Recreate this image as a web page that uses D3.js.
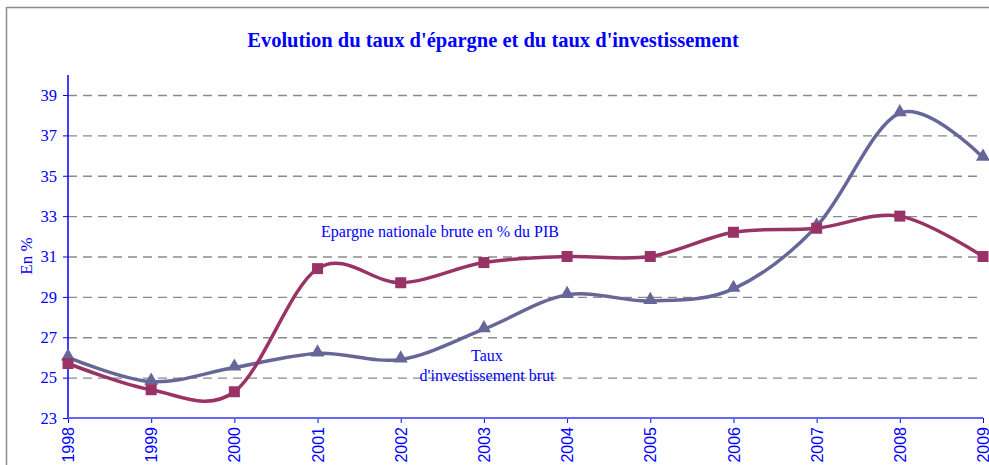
<!DOCTYPE html>
<html>
<head>
<meta charset="utf-8">
<script src="https://cdn.jsdelivr.net/npm/d3@7"></script>
<style>
  body { margin: 0; background: #fff; }
  svg { display: block; font-family: "Liberation Serif", "Times New Roman", serif; }
</style>
</head>
<body>
<div id="chart"></div>
<script>
// data
const years = [1998, 1999, 2000, 2001, 2002, 2003, 2004, 2005, 2006, 2007, 2008, 2009];
const epargne = [25.7, 24.4, 24.3, 30.4, 29.7, 30.7, 31.0, 31.0, 32.2, 32.4, 33.0, 31.0];
const investissement = [26.0, 24.8, 25.5, 26.2, 25.9, 27.4, 29.1, 28.8, 29.4, 32.5, 38.1, 35.9];
const yTicks = [23, 25, 27, 29, 31, 33, 35, 37, 39];

const width = 989, height = 465;
const MARGIN_LEFT = 68, MARGIN_RIGHT = 6, MARGIN_TOP = 95, MARGIN_BOTTOM = 47;

const $svg = d3.select('#chart').append('svg')
    .attr('width', width)
    .attr('height', height);

// frame
$svg.append('rect')
    .attr('x', 6.5).attr('y', 7.5)
    .attr('width', width + 10).attr('height', height + 10)
    .attr('fill', 'none')
    .attr('stroke', '#8c8c8c')
    .attr('stroke-width', 1.5);

// title
$svg.append('text')
    .attr('x', 493).attr('y', 47)
    .attr('text-anchor', 'middle')
    .attr('fill', '#0000ff')
    .attr('font-weight', 'bold')
    .attr('font-size', 20.5)
    .text("Evolution du taux d'épargne et du taux d'investissement");

const xScale = d3.scalePoint()
    .domain(years)
    .range([MARGIN_LEFT, width - MARGIN_RIGHT]);

const yScale = d3.scaleLinear()
    .domain([23, 39])
    .range([height - MARGIN_BOTTOM, MARGIN_TOP]);

// grid
$svg.append('g').attr('class', 'grid')
    .selectAll('line')
    .data(yTicks.slice(1))
    .enter().append('line')
    .attr('x1', MARGIN_LEFT).attr('x2', width - MARGIN_RIGHT)
    .attr('y1', d => yScale(d) + 0.5).attr('y2', d => yScale(d) + 0.5)
    .attr('stroke', '#8a8a8a')
    .attr('stroke-width', 1.3)
    .attr('stroke-dasharray', '9,6');

// y axis
const yAxisGroup = $svg.append('g')
    .attr('transform', `translate(${MARGIN_LEFT},0)`)
    .call(d3.axisLeft(yScale).tickValues(yTicks).tickSize(5).tickPadding(6));
yAxisGroup.select('.domain').remove();
yAxisGroup.append('line')
    .attr('x1', 0).attr('x2', 0)
    .attr('y1', 75).attr('y2', yScale(23))
    .attr('stroke', '#0000ff').attr('stroke-width', 1.5);
yAxisGroup.selectAll('.tick line').attr('stroke', '#0000ff').attr('x2', -5);
yAxisGroup.selectAll('.tick text')
    .attr('fill', '#0000ff')
    .attr('font-size', 16.5)
    .attr('font-family', '"Liberation Serif", serif');

// y label
$svg.append('text')
    .attr('transform', 'translate(32,256) rotate(-90)')
    .attr('text-anchor', 'middle')
    .attr('fill', '#0000ff')
    .attr('font-size', 17)
    .text('En %');

// x axis
const xAxisGroup = $svg.append('g')
    .attr('transform', `translate(0,${yScale(23)})`)
    .call(d3.axisBottom(xScale).tickSize(5).tickPadding(6));
xAxisGroup.select('.domain').remove();
xAxisGroup.append('line')
    .attr('x1', MARGIN_LEFT).attr('x2', width - MARGIN_RIGHT)
    .attr('stroke', '#6666ff').attr('stroke-width', 2);
xAxisGroup.selectAll('.tick line').attr('stroke', '#0000ff');
xAxisGroup.selectAll('.tick text')
    .attr('fill', '#0000ff')
    .attr('font-size', 16)
    .attr('font-family', '"Liberation Sans", Arial, sans-serif')
    .attr('text-anchor', 'end')
    .attr('dy', '0.35em')
    .attr('transform', 'translate(0,7) rotate(-90)')
    .attr('y', 0).attr('x', -2);

// lines
const line = d3.line()
    .x((d, i) => xScale(years[i]))
    .y(d => yScale(d))
    .curve(d3.curveCatmullRom.alpha(0));

const $vis = $svg.append('g').attr('class', 'g-vis');

$vis.append('path')
    .datum(investissement)
    .attr('d', line)
    .attr('fill', 'none')
    .attr('stroke', '#666699')
    .attr('stroke-width', 3.5);

$vis.append('path')
    .datum(epargne)
    .attr('d', line)
    .attr('fill', 'none')
    .attr('stroke', '#993366')
    .attr('stroke-width', 3.5);

// markers
const tri = d3.symbol().type(d3.symbolTriangle).size(85);
$vis.selectAll('.tri')
    .data(investissement)
    .enter().append('path')
    .attr('class', 'tri')
    .attr('d', tri)
    .attr('transform', (d, i) => `translate(${xScale(years[i])},${yScale(d) - 1})`)
    .attr('fill', '#666699');

$vis.selectAll('.sq')
    .data(epargne)
    .enter().append('rect')
    .attr('class', 'sq')
    .attr('x', (d, i) => xScale(years[i]) - 5.5)
    .attr('y', d => yScale(d) - 5.5)
    .attr('width', 11).attr('height', 11)
    .attr('fill', '#993366');

// annotations
$svg.append('text')
    .attr('x', 440).attr('y', 237)
    .attr('text-anchor', 'middle')
    .attr('fill', '#0000ff')
    .attr('font-size', 16)
    .text('Epargne nationale brute en % du PIB');

const $inv = $svg.append('text')
    .attr('text-anchor', 'middle')
    .attr('fill', '#0000ff')
    .attr('font-size', 16);
$inv.append('tspan').attr('x', 487).attr('y', 361).text('Taux');
$inv.append('tspan').attr('x', 487).attr('y', 381).text("d'investissement brut");
</script>
</body>
</html>
